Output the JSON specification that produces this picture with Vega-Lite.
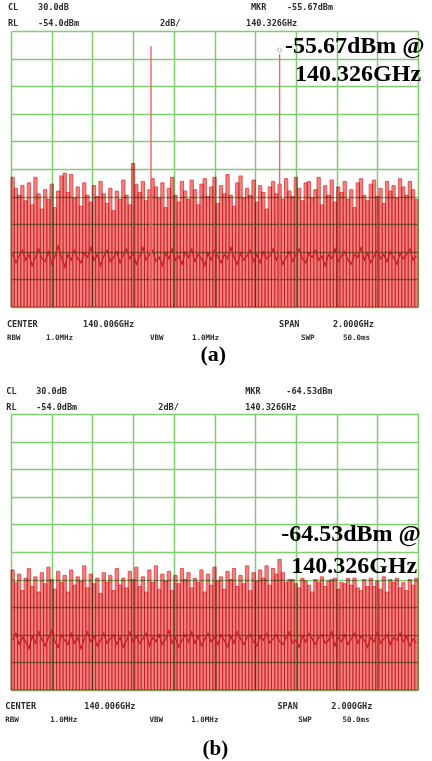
{
  "$schema": "https://vega.github.io/schema/vega-lite/v6.json",
  "background": "white",
  "padding": {"left": 5, "top": 2, "right": 0, "bottom": 0},
  "bounds": "flush",
  "spacing": 107,
  "config": {
    "view": {"stroke": null},
    "axis": {"labels": false, "ticks": false, "domain": false, "grid": true, "gridColor": "#82cc72", "gridWidth": 1.5, "gridOpacity": 1, "tickCount": 11},
    "text": {"font": "DejaVu Sans Mono", "fontSize": 8.5, "fontWeight": "bold", "align": "left", "baseline": "middle", "fill": "#2b2b2b"}
  },
  "datasets": {
    "spec": [
      {"f":139.014,"a":-64.6,"aa":-70.1,"b":-65.3,"ba":-70.4},
      {"f":139.030,"a":-65.4,"aa":-70.8,"b":-66.2,"ba":-69.9},
      {"f":139.046,"a":-65.9,"aa":-70.3,"b":-65.6,"ba":-70.7},
      {"f":139.062,"a":-65.2,"aa":-69.9,"b":-66.8,"ba":-70.2},
      {"f":139.078,"a":-66.3,"aa":-70.6,"b":-65.9,"ba":-70.5},
      {"f":139.094,"a":-65.0,"aa":-70.2,"b":-65.2,"ba":-71.0},
      {"f":139.110,"a":-66.6,"aa":-71.0,"b":-66.5,"ba":-70.1},
      {"f":139.126,"a":-64.6,"aa":-70.4,"b":-65.8,"ba":-70.6},
      {"f":139.142,"a":-65.8,"aa":-69.8,"b":-66.9,"ba":-69.8},
      {"f":139.158,"a":-66.9,"aa":-70.5,"b":-65.5,"ba":-70.3},
      {"f":139.174,"a":-65.5,"aa":-70.7,"b":-66.3,"ba":-70.8},
      {"f":139.190,"a":-66.2,"aa":-70.0,"b":-65.1,"ba":-70.2},
      {"f":139.206,"a":-65.1,"aa":-70.9,"b":-66.0,"ba":-69.7},
      {"f":139.222,"a":-66.8,"aa":-70.3,"b":-66.7,"ba":-70.5},
      {"f":139.238,"a":-65.6,"aa":-69.6,"b":-65.4,"ba":-70.9},
      {"f":139.254,"a":-64.5,"aa":-70.4,"b":-66.2,"ba":-70.0},
      {"f":139.270,"a":-64.3,"aa":-71.1,"b":-65.7,"ba":-70.4},
      {"f":139.286,"a":-65.7,"aa":-70.2,"b":-66.9,"ba":-70.7},
      {"f":139.302,"a":-64.4,"aa":-70.6,"b":-65.3,"ba":-69.9},
      {"f":139.318,"a":-66.1,"aa":-69.9,"b":-66.4,"ba":-70.6},
      {"f":139.334,"a":-65.3,"aa":-70.5,"b":-65.8,"ba":-70.2},
      {"f":139.350,"a":-66.7,"aa":-70.8,"b":-66.1,"ba":-71.0},
      {"f":139.366,"a":-65.0,"aa":-70.1,"b":-65.0,"ba":-70.3},
      {"f":139.382,"a":-65.9,"aa":-70.4,"b":-66.6,"ba":-69.8},
      {"f":139.398,"a":-66.4,"aa":-69.7,"b":-65.6,"ba":-70.5},
      {"f":139.414,"a":-65.2,"aa":-70.6,"b":-66.3,"ba":-70.1},
      {"f":139.430,"a":-66.0,"aa":-70.2,"b":-65.9,"ba":-70.8},
      {"f":139.446,"a":-64.9,"aa":-71.0,"b":-67.0,"ba":-70.4},
      {"f":139.462,"a":-65.8,"aa":-70.3,"b":-65.5,"ba":-69.9},
      {"f":139.478,"a":-66.5,"aa":-69.9,"b":-66.2,"ba":-70.6},
      {"f":139.494,"a":-65.4,"aa":-70.7,"b":-65.7,"ba":-70.3},
      {"f":139.510,"a":-67.0,"aa":-70.4,"b":-66.8,"ba":-70.0},
      {"f":139.526,"a":-65.6,"aa":-70.0,"b":-65.2,"ba":-70.7},
      {"f":139.542,"a":-66.2,"aa":-70.8,"b":-66.4,"ba":-70.2},
      {"f":139.558,"a":-64.8,"aa":-70.2,"b":-65.9,"ba":-70.9},
      {"f":139.574,"a":-65.9,"aa":-69.8,"b":-66.6,"ba":-70.4},
      {"f":139.590,"a":-66.6,"aa":-70.5,"b":-65.4,"ba":-69.8},
      {"f":139.606,"a":-63.6,"aa":-70.1,"b":-66.0,"ba":-70.5},
      {"f":139.622,"a":-65.1,"aa":-70.9,"b":-65.1,"ba":-70.1},
      {"f":139.638,"a":-65.7,"aa":-70.3,"b":-66.5,"ba":-70.6},
      {"f":139.654,"a":-64.9,"aa":-69.7,"b":-65.8,"ba":-70.3},
      {"f":139.670,"a":-66.3,"aa":-70.6,"b":-66.9,"ba":-69.9},
      {"f":139.686,"a":-65.5,"aa":-70.2,"b":-65.3,"ba":-70.8},
      {"f":139.702,"a":-64.7,"aa":-69.9,"b":-66.2,"ba":-70.2},
      {"f":139.718,"a":-65.3,"aa":-70.7,"b":-65.0,"ba":-70.5},
      {"f":139.734,"a":-66.1,"aa":-70.4,"b":-66.7,"ba":-70.0},
      {"f":139.750,"a":-65.0,"aa":-71.0,"b":-65.6,"ba":-70.7},
      {"f":139.766,"a":-66.8,"aa":-70.1,"b":-66.1,"ba":-70.3},
      {"f":139.782,"a":-65.4,"aa":-70.5,"b":-65.4,"ba":-69.7},
      {"f":139.798,"a":-64.6,"aa":-69.8,"b":-66.8,"ba":-70.6},
      {"f":139.814,"a":-65.9,"aa":-70.6,"b":-65.7,"ba":-70.2},
      {"f":139.830,"a":-66.4,"aa":-70.3,"b":-66.3,"ba":-70.9},
      {"f":139.846,"a":-64.9,"aa":-70.9,"b":-65.2,"ba":-70.4},
      {"f":139.862,"a":-65.6,"aa":-70.0,"b":-66.0,"ba":-70.0},
      {"f":139.878,"a":-66.2,"aa":-70.4,"b":-65.5,"ba":-70.5},
      {"f":139.894,"a":-64.8,"aa":-69.8,"b":-66.6,"ba":-69.8},
      {"f":139.910,"a":-65.5,"aa":-70.7,"b":-65.9,"ba":-70.6},
      {"f":139.926,"a":-66.6,"aa":-70.2,"b":-66.2,"ba":-70.1},
      {"f":139.942,"a":-65.1,"aa":-70.5,"b":-65.3,"ba":-70.8},
      {"f":139.958,"a":-64.7,"aa":-71.0,"b":-66.9,"ba":-70.3},
      {"f":139.974,"a":-66.0,"aa":-70.1,"b":-65.6,"ba":-69.9},
      {"f":139.990,"a":-65.3,"aa":-70.6,"b":-66.4,"ba":-70.5},
      {"f":140.006,"a":-64.6,"aa":-69.9,"b":-65.1,"ba":-70.2},
      {"f":140.022,"a":-66.5,"aa":-70.3,"b":-66.1,"ba":-70.7},
      {"f":140.038,"a":-65.2,"aa":-70.8,"b":-65.8,"ba":-70.0},
      {"f":140.054,"a":-65.8,"aa":-70.2,"b":-66.7,"ba":-70.4},
      {"f":140.070,"a":-64.4,"aa":-70.5,"b":-65.4,"ba":-70.9},
      {"f":140.086,"a":-65.9,"aa":-69.7,"b":-66.0,"ba":-70.1},
      {"f":140.102,"a":-66.7,"aa":-70.4,"b":-65.2,"ba":-70.6},
      {"f":140.118,"a":-65.0,"aa":-70.9,"b":-66.5,"ba":-69.8},
      {"f":140.134,"a":-64.5,"aa":-70.1,"b":-65.7,"ba":-70.3},
      {"f":140.150,"a":-66.1,"aa":-70.6,"b":-66.3,"ba":-70.7},
      {"f":140.166,"a":-65.4,"aa":-70.3,"b":-65.0,"ba":-70.2},
      {"f":140.182,"a":-65.9,"aa":-69.9,"b":-66.8,"ba":-70.0},
      {"f":140.198,"a":-64.8,"aa":-70.7,"b":-65.5,"ba":-70.5},
      {"f":140.214,"a":-66.4,"aa":-70.2,"b":-66.1,"ba":-70.8},
      {"f":140.230,"a":-65.2,"aa":-70.8,"b":-65.3,"ba":-70.1},
      {"f":140.246,"a":-65.7,"aa":-70.0,"b":-65.9,"ba":-70.4},
      {"f":140.262,"a":-66.9,"aa":-70.5,"b":-65.0,"ba":-69.9},
      {"f":140.278,"a":-65.3,"aa":-70.3,"b":-66.4,"ba":-70.6},
      {"f":140.294,"a":-64.9,"aa":-69.8,"b":-65.2,"ba":-70.3},
      {"f":140.310,"a":-65.8,"aa":-70.6,"b":-65.6,"ba":-70.0},
      {"f":140.326,"a":-65.1,"aa":-70.1,"b":-64.53,"ba":-70.5},
      {"f":140.342,"a":-66.2,"aa":-70.9,"b":-65.5,"ba":-70.7},
      {"f":140.358,"a":-64.7,"aa":-70.4,"b":-66.2,"ba":-70.2},
      {"f":140.374,"a":-65.6,"aa":-70.0,"b":-66.0,"ba":-69.8},
      {"f":140.390,"a":-66.0,"aa":-70.7,"b":-66.0,"ba":-70.6},
      {"f":140.406,"a":-64.6,"aa":-70.2,"b":-66.3,"ba":-70.4},
      {"f":140.422,"a":-65.4,"aa":-69.8,"b":-66.6,"ba":-70.9},
      {"f":140.438,"a":-66.3,"aa":-70.5,"b":-65.9,"ba":-70.1},
      {"f":140.454,"a":-65.0,"aa":-70.8,"b":-66.1,"ba":-70.5},
      {"f":140.470,"a":-64.9,"aa":-70.1,"b":-66.4,"ba":-69.9},
      {"f":140.486,"a":-66.1,"aa":-70.4,"b":-66.9,"ba":-70.3},
      {"f":140.502,"a":-65.5,"aa":-69.9,"b":-66.0,"ba":-70.7},
      {"f":140.518,"a":-64.6,"aa":-70.6,"b":-66.2,"ba":-70.2},
      {"f":140.534,"a":-66.6,"aa":-70.3,"b":-65.8,"ba":-70.0},
      {"f":140.550,"a":-65.2,"aa":-71.0,"b":-66.5,"ba":-70.6},
      {"f":140.566,"a":-65.9,"aa":-70.2,"b":-66.1,"ba":-70.4},
      {"f":140.582,"a":-64.8,"aa":-70.5,"b":-66.0,"ba":-69.8},
      {"f":140.598,"a":-66.4,"aa":-69.8,"b":-65.9,"ba":-70.8},
      {"f":140.614,"a":-65.3,"aa":-70.7,"b":-66.7,"ba":-70.2},
      {"f":140.630,"a":-65.7,"aa":-70.3,"b":-66.2,"ba":-70.5},
      {"f":140.646,"a":-64.9,"aa":-70.0,"b":-66.3,"ba":-70.0},
      {"f":140.662,"a":-66.2,"aa":-70.6,"b":-65.9,"ba":-70.7},
      {"f":140.678,"a":-65.5,"aa":-70.9,"b":-66.4,"ba":-70.3},
      {"f":140.694,"a":-66.8,"aa":-70.2,"b":-65.9,"ba":-69.9},
      {"f":140.710,"a":-65.0,"aa":-70.4,"b":-66.6,"ba":-70.6},
      {"f":140.726,"a":-64.7,"aa":-69.7,"b":-66.8,"ba":-70.1},
      {"f":140.742,"a":-65.9,"aa":-70.6,"b":-66.0,"ba":-70.4},
      {"f":140.758,"a":-66.3,"aa":-70.1,"b":-66.5,"ba":-70.9},
      {"f":140.774,"a":-65.1,"aa":-70.8,"b":-65.9,"ba":-70.2},
      {"f":140.790,"a":-64.8,"aa":-70.3,"b":-66.5,"ba":-70.5},
      {"f":140.806,"a":-66.0,"aa":-69.9,"b":-66.1,"ba":-69.8},
      {"f":140.822,"a":-65.4,"aa":-70.5,"b":-66.7,"ba":-70.6},
      {"f":140.838,"a":-66.5,"aa":-70.2,"b":-65.8,"ba":-70.3},
      {"f":140.854,"a":-64.9,"aa":-70.7,"b":-66.9,"ba":-70.0},
      {"f":140.870,"a":-65.6,"aa":-70.0,"b":-66.0,"ba":-70.7},
      {"f":140.886,"a":-65.2,"aa":-70.4,"b":-66.2,"ba":-70.2},
      {"f":140.902,"a":-66.1,"aa":-70.9,"b":-65.9,"ba":-70.4},
      {"f":140.918,"a":-64.7,"aa":-70.1,"b":-66.6,"ba":-69.9},
      {"f":140.934,"a":-65.3,"aa":-70.5,"b":-66.2,"ba":-70.5},
      {"f":140.950,"a":-65.9,"aa":-70.2,"b":-66.8,"ba":-70.1},
      {"f":140.966,"a":-64.9,"aa":-69.8,"b":-66.0,"ba":-70.8},
      {"f":140.982,"a":-65.5,"aa":-70.6,"b":-66.4,"ba":-70.3},
      {"f":140.998,"a":-66.2,"aa":-70.3,"b":-65.9,"ba":-70.6}
    ]
  },
  "vconcat": [
    {
      "width": 407,
      "height": 276,
      "layer": [
        {
          "data": {"name": "spec"},
          "layer": [
            {
              "mark": {"type": "bar", "size": 3.3, "fill": "#f28282", "stroke": "#dc3c3c", "strokeWidth": 0.8, "blend": "multiply"},
              "encoding": {
                "x": {"field": "f", "type": "quantitative", "title": null, "scale": {"domain": [139.006, 141.006], "nice": false, "zero": false, "padding": 0}, "axis": {"title": null, "tickCount": 11, "values": [139.006, 139.206, 139.406, 139.606, 139.806, 140.006, 140.206, 140.406, 140.606, 140.806, 141.006]}},
                "y": {"field": "a", "type": "quantitative", "title": null, "scale": {"domain": [-74, -54], "nice": false, "zero": false, "padding": 0}, "axis": {"title": null, "tickCount": 11, "values": [-74, -72, -70, -68, -66, -64, -62, -60, -58, -56, -54]}},
                "y2": {"datum": -74}
              }
            },
            {
              "mark": {"type": "line", "color": "#c81e24", "strokeWidth": 1.3},
              "encoding": {
                "x": {"field": "f", "type": "quantitative", "title": null},
                "y": {"field": "aa", "type": "quantitative", "title": null}
              }
            }
          ]
        },
        {
          "data": {"values": [{"f": 139.694, "lvl": -55.1}, {"f": 140.326, "lvl": -55.67}]},
          "mark": {"type": "rule", "color": "#f06464", "strokeWidth": 1.4},
          "encoding": {
            "x": {"field": "f", "type": "quantitative", "title": null},
            "y": {"field": "lvl", "type": "quantitative", "title": null},
            "y2": {"datum": -74}
          }
        },
        {
          "data": {"values": [{}]},
          "layer": [
            {"mark": {"type": "point", "shape": "diamond", "filled": false, "stroke": "#8a8a8a", "strokeWidth": 1, "size": 22, "yOffset": -4}, "encoding": {"x": {"datum": 140.326}, "y": {"datum": -55.67}}},
            {"mark": {"type": "text", "text": "CL"}, "encoding": {"x": {"datum": 138.991}, "y": {"datum": -52.26}}},
            {"mark": {"type": "text", "text": "30.0dB"}, "encoding": {"x": {"datum": 139.139}, "y": {"datum": -52.26}}},
            {"mark": {"type": "text", "text": "MKR"}, "encoding": {"x": {"datum": 140.185}, "y": {"datum": -52.26}}},
            {"mark": {"type": "text", "text": "-55.67dBm"}, "encoding": {"x": {"datum": 140.362}, "y": {"datum": -52.26}}},
            {"mark": {"type": "text", "text": "RL"}, "encoding": {"x": {"datum": 138.991}, "y": {"datum": -53.42}}},
            {"mark": {"type": "text", "text": "-54.0dBm"}, "encoding": {"x": {"datum": 139.139}, "y": {"datum": -53.42}}},
            {"mark": {"type": "text", "text": "2dB/"}, "encoding": {"x": {"datum": 139.738}, "y": {"datum": -53.42}}},
            {"mark": {"type": "text", "text": "140.326GHz"}, "encoding": {"x": {"datum": 140.161}, "y": {"datum": -53.42}}},
            {"mark": {"type": "text", "text": "CENTER"}, "encoding": {"x": {"datum": 138.986}, "y": {"datum": -75.21}}},
            {"mark": {"type": "text", "text": "140.006GHz"}, "encoding": {"x": {"datum": 139.36}, "y": {"datum": -75.21}}},
            {"mark": {"type": "text", "text": "SPAN"}, "encoding": {"x": {"datum": 140.323}, "y": {"datum": -75.21}}},
            {"mark": {"type": "text", "text": "2.000GHz"}, "encoding": {"x": {"datum": 140.588}, "y": {"datum": -75.21}}},
            {"mark": {"type": "text", "text": "RBW", "fontSize": 7.5}, "encoding": {"x": {"datum": 138.986}, "y": {"datum": -76.22}}},
            {"mark": {"type": "text", "text": "1.0MHz", "fontSize": 7.5}, "encoding": {"x": {"datum": 139.178}, "y": {"datum": -76.22}}},
            {"mark": {"type": "text", "text": "VBW", "fontSize": 7.5}, "encoding": {"x": {"datum": 139.689}, "y": {"datum": -76.22}}},
            {"mark": {"type": "text", "text": "1.0MHz", "fontSize": 7.5}, "encoding": {"x": {"datum": 139.895}, "y": {"datum": -76.22}}},
            {"mark": {"type": "text", "text": "SWP", "fontSize": 7.5}, "encoding": {"x": {"datum": 140.431}, "y": {"datum": -76.22}}},
            {"mark": {"type": "text", "text": "50.0ms", "fontSize": 7.5}, "encoding": {"x": {"datum": 140.637}, "y": {"datum": -76.22}}},
            {"mark": {"type": "text", "text": "(a)", "font": "Liberation Serif", "fontSize": 22, "align": "center", "fill": "#000000"}, "encoding": {"x": {"datum": 140.0}, "y": {"datum": -77.42}}},
            {"mark": {"type": "text", "text": "-55.67dBm @", "font": "Liberation Serif", "fontSize": 24, "fill": "#000000"}, "encoding": {"x": {"datum": 140.352}, "y": {"datum": -55.09}}},
            {"mark": {"type": "text", "text": "140.326GHz", "font": "Liberation Serif", "fontSize": 24, "fill": "#000000"}, "encoding": {"x": {"datum": 140.402}, "y": {"datum": -57.12}}}
          ]
        }
      ]
    },
    {
      "width": 407,
      "height": 276,
      "layer": [
        {
          "data": {"name": "spec"},
          "layer": [
            {
              "mark": {"type": "bar", "size": 3.3, "fill": "#f28282", "stroke": "#dc3c3c", "strokeWidth": 0.8, "blend": "multiply"},
              "encoding": {
                "x": {"field": "f", "type": "quantitative", "title": null, "scale": {"domain": [139.006, 141.006], "nice": false, "zero": false, "padding": 0}, "axis": {"title": null, "tickCount": 11, "values": [139.006, 139.206, 139.406, 139.606, 139.806, 140.006, 140.206, 140.406, 140.606, 140.806, 141.006]}},
                "y": {"field": "b", "type": "quantitative", "title": null, "scale": {"domain": [-74, -54], "nice": false, "zero": false, "padding": 0}, "axis": {"title": null, "tickCount": 11, "values": [-74, -72, -70, -68, -66, -64, -62, -60, -58, -56, -54]}},
                "y2": {"datum": -74}
              }
            },
            {
              "mark": {"type": "line", "color": "#c81e24", "strokeWidth": 1.3},
              "encoding": {
                "x": {"field": "f", "type": "quantitative", "title": null},
                "y": {"field": "ba", "type": "quantitative", "title": null}
              }
            }
          ]
        },
        {
          "data": {"values": [{}]},
          "layer": [
            {"mark": {"type": "point", "shape": "diamond", "filled": false, "stroke": "#8a8a8a", "strokeWidth": 1, "size": 22, "yOffset": 2}, "encoding": {"x": {"datum": 140.326}, "y": {"datum": -64.53}}},
            {"mark": {"type": "text", "text": "CL"}, "encoding": {"x": {"datum": 138.983}, "y": {"datum": -52.33}}},
            {"mark": {"type": "text", "text": "30.0dB"}, "encoding": {"x": {"datum": 139.13}, "y": {"datum": -52.33}}},
            {"mark": {"type": "text", "text": "MKR"}, "encoding": {"x": {"datum": 140.157}, "y": {"datum": -52.33}}},
            {"mark": {"type": "text", "text": "-64.53dBm"}, "encoding": {"x": {"datum": 140.359}, "y": {"datum": -52.33}}},
            {"mark": {"type": "text", "text": "RL"}, "encoding": {"x": {"datum": 138.983}, "y": {"datum": -53.49}}},
            {"mark": {"type": "text", "text": "-54.0dBm"}, "encoding": {"x": {"datum": 139.13}, "y": {"datum": -53.49}}},
            {"mark": {"type": "text", "text": "2dB/"}, "encoding": {"x": {"datum": 139.73}, "y": {"datum": -53.49}}},
            {"mark": {"type": "text", "text": "140.326GHz"}, "encoding": {"x": {"datum": 140.157}, "y": {"datum": -53.49}}},
            {"mark": {"type": "text", "text": "CENTER"}, "encoding": {"x": {"datum": 138.978}, "y": {"datum": -75.16}}},
            {"mark": {"type": "text", "text": "140.006GHz"}, "encoding": {"x": {"datum": 139.366}, "y": {"datum": -75.16}}},
            {"mark": {"type": "text", "text": "SPAN"}, "encoding": {"x": {"datum": 140.315}, "y": {"datum": -75.16}}},
            {"mark": {"type": "text", "text": "2.000GHz"}, "encoding": {"x": {"datum": 140.58}, "y": {"datum": -75.16}}},
            {"mark": {"type": "text", "text": "RBW", "fontSize": 7.5}, "encoding": {"x": {"datum": 138.978}, "y": {"datum": -76.17}}},
            {"mark": {"type": "text", "text": "1.0MHz", "fontSize": 7.5}, "encoding": {"x": {"datum": 139.199}, "y": {"datum": -76.17}}},
            {"mark": {"type": "text", "text": "VBW", "fontSize": 7.5}, "encoding": {"x": {"datum": 139.686}, "y": {"datum": -76.17}}},
            {"mark": {"type": "text", "text": "1.0MHz", "fontSize": 7.5}, "encoding": {"x": {"datum": 139.892}, "y": {"datum": -76.17}}},
            {"mark": {"type": "text", "text": "SWP", "fontSize": 7.5}, "encoding": {"x": {"datum": 140.418}, "y": {"datum": -76.17}}},
            {"mark": {"type": "text", "text": "50.0ms", "fontSize": 7.5}, "encoding": {"x": {"datum": 140.635}, "y": {"datum": -76.17}}},
            {"mark": {"type": "text", "text": "(b)", "font": "Liberation Serif", "fontSize": 21, "align": "center", "fill": "#000000"}, "encoding": {"x": {"datum": 140.01}, "y": {"datum": -78.3}}},
            {"mark": {"type": "text", "text": "-64.53dBm @", "font": "Liberation Serif", "fontSize": 24, "fill": "#000000"}, "encoding": {"x": {"datum": 140.334}, "y": {"datum": -62.7}}},
            {"mark": {"type": "text", "text": "140.326GHz", "font": "Liberation Serif", "fontSize": 24, "fill": "#000000"}, "encoding": {"x": {"datum": 140.383}, "y": {"datum": -65.01}}}
          ]
        }
      ]
    }
  ]
}
